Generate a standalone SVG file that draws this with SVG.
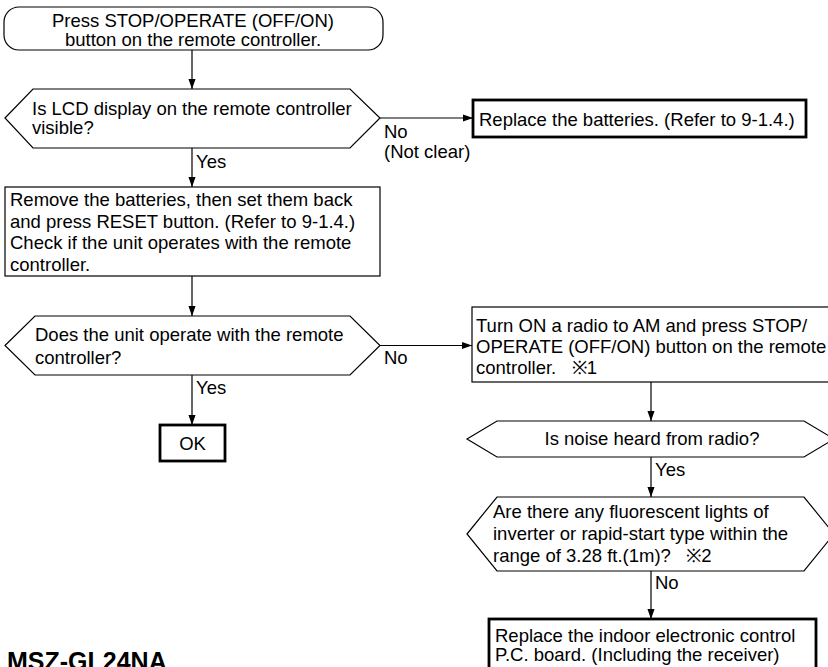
<svg xmlns="http://www.w3.org/2000/svg" width="828" height="667" viewBox="0 0 828 667">
<defs>
<style>
.t{font-family:"Liberation Sans",Arial,sans-serif;font-size:18.5px;fill:#000}
.c{text-anchor:middle}
.p{white-space:pre}
.s{fill:#fff;stroke:#000;stroke-width:1.2}
.k{fill:#fff;stroke:#000;stroke-width:2.8}
.ln{stroke:#000;stroke-width:1.2;fill:none;marker-end:url(#ah)}
.h{font-family:"Liberation Sans",Arial,sans-serif;font-size:25px;font-weight:bold;fill:#000}
</style>
<marker id="ah" markerUnits="userSpaceOnUse" markerWidth="10" markerHeight="16" refX="14" refY="5" viewBox="0 0 14 10" orient="auto">
<path d="M0,0 L14,5 L0,10 Z" fill="#000"/>
</marker>
</defs>
<rect width="828" height="667" fill="#fff"/>
<g id="start">
<rect class="s" x="4" y="7" width="379" height="43" rx="15" ry="15"/>
<text class="t c" x="193" y="27">Press STOP/OPERATE (OFF/ON)</text>
<text class="t c" x="193" y="46">button on the remote controller.</text>
</g>
<g id="q-lcd">
<polygon class="s" points="5,118 33,89 350,89 380,118 350,148 33,148"/>
<text class="t" x="32" y="115">Is LCD display on the remote controller</text>
<text class="t" x="32" y="134">visible?</text>
</g>
<g id="replace-batteries">
<rect class="k" x="473" y="100" width="333" height="37"/>
<text class="t" x="479" y="126">Replace the batteries. (Refer to 9-1.4.)</text>
</g>
<g id="reset">
<rect class="s" x="5" y="187" width="375" height="89"/>
<text class="t" x="10" y="206">Remove the batteries, then set them back</text>
<text class="t" x="10" y="228">and press RESET button. (Refer to 9-1.4.)</text>
<text class="t" x="10" y="249">Check if the unit operates with the remote</text>
<text class="t" x="10" y="271">controller.</text>
</g>
<g id="q-operate">
<polygon class="s" points="5,345.5 35,316 350,316 380,345.5 350,375 35,375"/>
<text class="t" x="35" y="341">Does the unit operate with the remote</text>
<text class="t" x="35" y="364">controller?</text>
</g>
<g id="ok">
<rect class="k" x="160" y="425" width="65" height="36"/>
<text class="t c" x="192.5" y="450">OK</text>
</g>
<g id="radio">
<rect class="s" x="472" y="307" width="370" height="75"/>
<text class="t" x="476" y="332">Turn ON a radio to AM and press STOP/</text>
<text class="t" x="476" y="353">OPERATE (OFF/ON) button on the remote</text>
<text class="t p" x="476" y="374">controller.   ※1</text>
</g>
<g id="q-noise">
<polygon class="s" points="467,439 497,421 804,421 834,439 804,457 497,457"/>
<text class="t c" x="652" y="445">Is noise heard from radio?</text>
</g>
<g id="q-fluorescent">
<polygon class="s" points="467,534 497,497 804,497 834,534 804,571 497,571"/>
<text class="t" x="493" y="518">Are there any fluorescent lights of</text>
<text class="t" x="493" y="540">inverter or rapid-start type within the</text>
<text class="t p" x="493" y="562">range of 3.28 ft.(1m)?   ※2</text>
</g>
<g id="replace-board">
<rect class="k" x="489" y="619" width="327" height="62"/>
<text class="t" x="495" y="642">Replace the indoor electronic control</text>
<text class="t" x="495" y="661">P.C. board. (Including the receiver)</text>
</g>
<g id="connectors">
<line class="ln" x1="192" y1="50" x2="192" y2="89"/>
<line class="ln" x1="380" y1="118" x2="473" y2="118"/>
<line class="ln" x1="192" y1="148" x2="192" y2="187"/>
<line class="ln" x1="192" y1="276" x2="192" y2="316"/>
<line class="ln" x1="192" y1="375" x2="192" y2="425"/>
<line class="ln" x1="380" y1="345.5" x2="472" y2="345.5"/>
<line class="ln" x1="651" y1="382" x2="651" y2="421"/>
<line class="ln" x1="651" y1="457" x2="651" y2="497"/>
<line class="ln" x1="651" y1="571" x2="651" y2="619"/>
<text class="t" x="384" y="138">No</text>
<text class="t" x="384" y="158">(Not clear)</text>
<text class="t" x="196" y="168">Yes</text>
<text class="t" x="384" y="364">No</text>
<text class="t" x="196" y="394">Yes</text>
<text class="t" x="655" y="476">Yes</text>
<text class="t" x="655" y="589">No</text>
</g>
<text class="h" x="7" y="670">MSZ-GL24NA</text>
</svg>
